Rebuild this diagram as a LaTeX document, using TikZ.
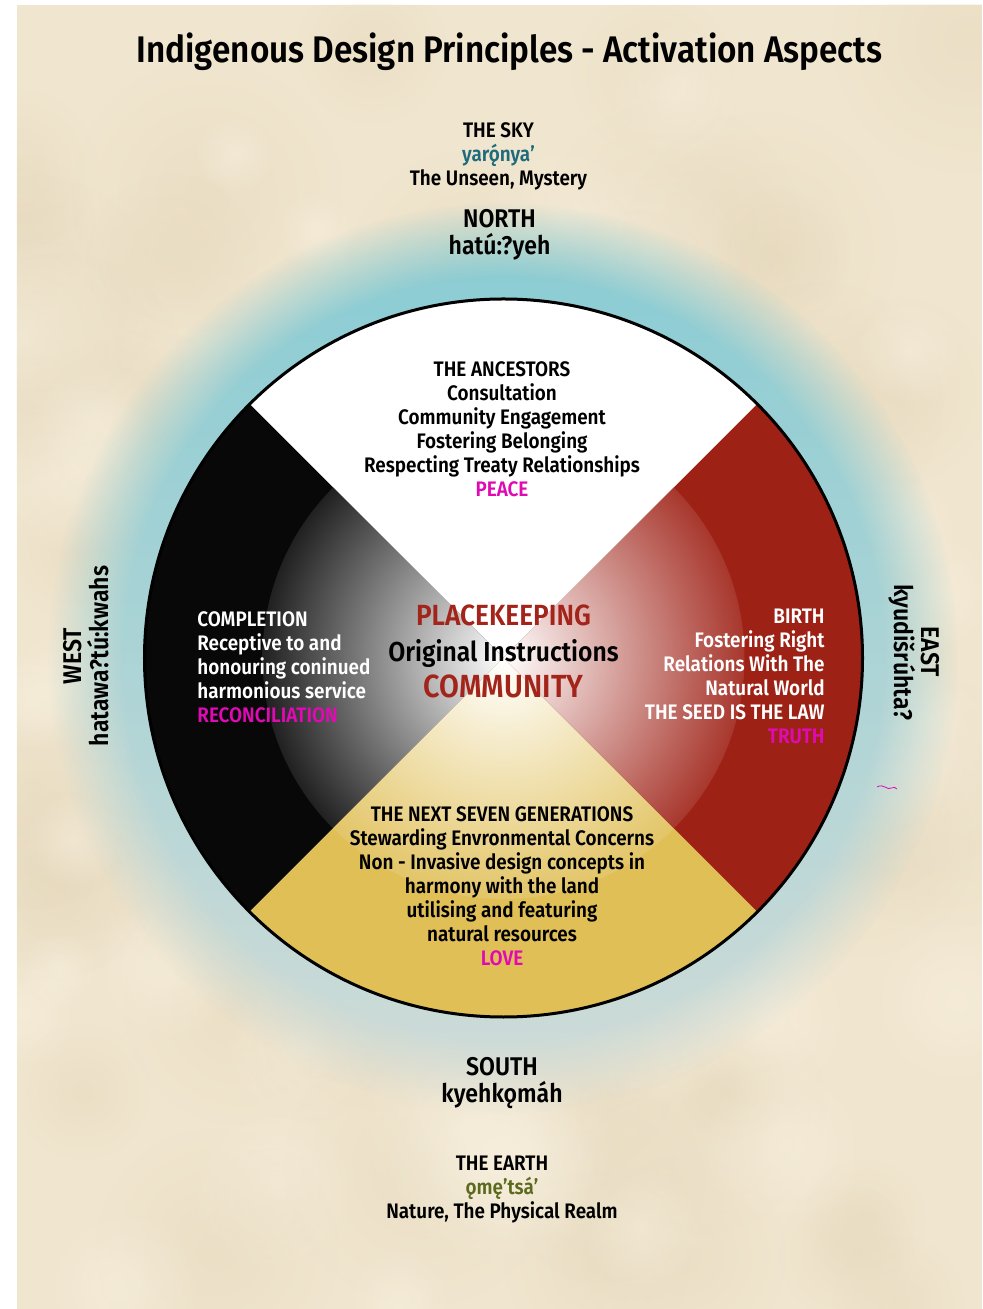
\documentclass[tikz,border=0pt]{standalone}
\usepackage{fontspec}
\setmainfont{Fira Sans}[FakeStretch=0.9, BoldFont={Fira Sans SemiBold}]
\usepackage{tikz}
\usetikzlibrary{fadings}
\definecolor{parchment}{HTML}{F0E5CE}
\definecolor{parchdark}{HTML}{E0D2B3}
\definecolor{parchlight}{HTML}{FAF3E3}
\definecolor{halosky}{HTML}{86CBD3}
\definecolor{halomist}{HTML}{D2DCD8}
\definecolor{wheelblack}{HTML}{080808}
\definecolor{wheelred}{HTML}{9E2116}
\definecolor{wheelgold}{HTML}{E0BF57}
\definecolor{keepred}{HTML}{A3241A}
\definecolor{virtue}{HTML}{E00AB4}
\definecolor{skyteal}{HTML}{1E6B7C}
\definecolor{earthgreen}{HTML}{5B6A1C}

% soft ring round the wheel: opaque inside, gone at the rim
\pgfdeclareradialshading{halomask}{\pgfpointorigin}{%
  color(0bp)=(white); color(20.8bp)=(white);
  color(22.5bp)=(black!40); color(25bp)=(black); color(50bp)=(black)}
\pgfdeclarefading{halofade}{\pgfuseshading{halomask}}
\tikzfading[name=blob, inner color=transparent!0, outer color=transparent!100]

\begin{document}
\begin{tikzpicture}[x=0.5pt, y=0.5pt,
  lines/.style={font=\bfseries\fontsize{10.5}{12}\selectfont, align=center, inner sep=0pt},
  compass/.style={font=\bfseries\fontsize{12.8}{13.5}\selectfont, align=center, inner sep=0pt}]
\useasboundingbox (-503.5,-651) rectangle (478.5,658);
\fill[white] (-503.5,-651) rectangle (478.5,658);
\fill[parchment] (-486.5,-651) rectangle (478.5,653);
% mottled paper
\begin{scope}
  \clip (-486.5,-651) rectangle (478.5,653);
  \pgfmathsetseed{11}
  \foreach \i in {1,...,70}{
    \pgfmathsetmacro\bx{-486+965*rnd}
    \pgfmathsetmacro\by{-651+1304*rnd}
    \pgfmathsetmacro\br{50+90*rnd}
    \fill[parchdark, opacity=0.3, path fading=blob] (\bx,\by) circle (\br);
  }
  \foreach \i in {1,...,50}{
    \pgfmathsetmacro\bx{-486+965*rnd}
    \pgfmathsetmacro\by{-651+1304*rnd}
    \pgfmathsetmacro\br{40+80*rnd}
    \fill[parchlight, opacity=0.45, path fading=blob] (\bx,\by) circle (\br);
  }
\end{scope}
\shade[top color=halosky, bottom color=halomist, path fading=halofade] (0,0) circle (455);

% the four quarters, each fading to white towards the middle
\fill[white] (0,0) -- (45:359) arc[start angle=45, delta angle=90, radius=359] -- cycle;
\foreach \a/\col in {135/wheelblack, 225/wheelgold, -45/wheelred}{
  \fill[\col] (0,0) -- (\a:359) arc[start angle=\a, delta angle=90, radius=359] -- cycle;
  \begin{scope}
    \clip (0,0) -- (\a:241) arc[start angle=\a, delta angle=90, radius=241] -- cycle;
    \shade[inner color=white, outer color=\col!90!white] (0,0) circle (241);
  \end{scope}
}
\draw[line width=1.5pt] (0,0) circle (359);

\node[font=\bfseries\fontsize{18.5}{22}\selectfont, inner sep=0pt, anchor=base] (title)
  at (6,595) {Indigenous Design Principles - Activation Aspects};

\node[lines, anchor=north] (sky) at (-5,536)
  {THE SKY\\\textcolor{skyteal}{yarǫ́nyaʼ}\\The Unseen, Mystery};
\node[compass, anchor=north] (north) at (-4,449) {NORTH\\hatú:?yeh};
\node[compass, anchor=north] (south) at (-1.5,-399) {SOUTH\\kyehkǫmáh};
\node[lines, anchor=north] (earth) at (-1.5,-498)
  {THE EARTH\\\textcolor{earthgreen}{ǫmęʼtsáʼ}\\Nature, The Physical Realm};
\node[compass, rotate=90, anchor=north] (west) at (-440.5,2) {WEST\\hatawa?tú:kwahs};
\node[compass, rotate=-90, anchor=north] (east) at (436.5,6) {EAST\\kyudišrúhta?};

\node[lines, anchor=north] (ancestors) at (-1.5,297)
  {THE ANCESTORS\\Consultation\\Community Engagement\\Fostering Belonging\\
   Respecting Treaty Relationships\\\textcolor{virtue}{PEACE}};
\node[lines, anchor=north west, align=left, text=white] (completion) at (-306.5,47)
  {COMPLETION\\Receptive to and\\honouring coninued\\harmonious service\\
   \textcolor{virtue}{RECONCILIATION}};
\node[lines, anchor=north east, align=right, text=white] (birth) at (321.5,49)
  {BIRTH\\Fostering Right\\Relations With The\\Natural World\\THE SEED IS THE LAW\\
   \textcolor{virtue}{TRUTH}};
\node[lines, anchor=north] (generations) at (-1.5,-148)
  {THE NEXT SEVEN GENERATIONS\\Stewarding Envronmental Concerns\\
   Non - Invasive design concepts in\\harmony with the land\\utilising and featuring\\
   natural resources\\\textcolor{virtue}{LOVE}};
\node[font=\bfseries\fontsize{14.6}{18}\selectfont, align=center, inner sep=0pt,
  anchor=north, text=keepred] (core) at (0,54)
  {PLACEKEEPING\\{\color{black}\fontsize{13.7}{18}\selectfont Original Instructions}\\
   {\fontsize{16}{18}\selectfont COMMUNITY}};

\draw[virtue, line width=0.4pt] (373.5,-129) .. controls (380,-125) and (384,-133) .. (388,-130)
  .. controls (390,-128) and (392,-130) .. (393.5,-131);
\end{tikzpicture}
\end{document}
